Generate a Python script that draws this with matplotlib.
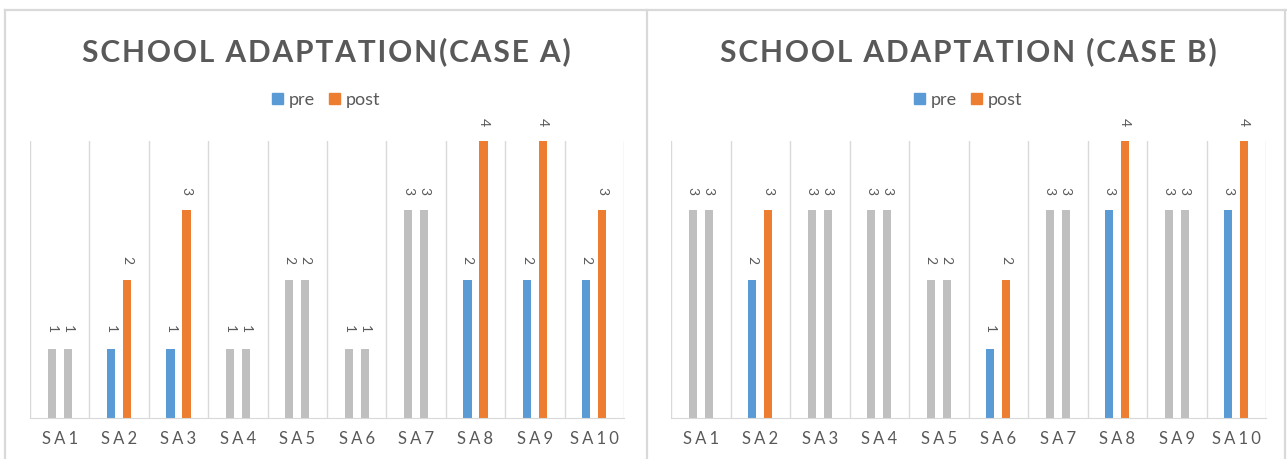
import matplotlib
matplotlib.use("Agg")
import matplotlib.pyplot as plt
from matplotlib.lines import Line2D
import numpy as np

# data
categories = ["SA1", "SA2", "SA3", "SA4", "SA5", "SA6", "SA7", "SA8", "SA9", "SA10"]
case_a_pre = [1, 1, 1, 1, 2, 1, 3, 2, 2, 2]
case_a_post = [1, 2, 3, 1, 2, 1, 3, 4, 4, 3]
case_b_pre = [3, 2, 3, 3, 2, 1, 3, 3, 3, 3]
case_b_post = [3, 3, 3, 3, 2, 2, 3, 4, 3, 4]

BLUE = "#5B9BD5"
ORANGE = "#ED7D31"
GREY = "#BFBFBF"
TEXT = "#595959"
LINE = "#D9D9D9"
FONT = ["Lato", "DejaVu Sans"]

W, H = 1287, 459
fig = plt.figure(figsize=(W / 100, H / 100), dpi=100)


def spaced(s, sep="\u200a"):
    return sep.join(s)


def px(x, y):
    return x / W, 1 - y / H


def draw_panel(left_px, right_px, title, title_x, pre, post):
    x0, y0 = px(left_px, 418)
    x1, y1 = px(right_px, 141)
    ax = fig.add_axes([x0, y0, x1 - x0, y1 - y0])
    x = np.arange(len(categories))
    off, bw = 0.135, 0.14
    pre_cols = [GREY if a == b else BLUE for a, b in zip(pre, post)]
    post_cols = [GREY if a == b else ORANGE for a, b in zip(pre, post)]
    b1 = ax.bar(x - off, pre, bw, color=pre_cols)
    b2 = ax.bar(x + off, post, bw, color=post_cols)
    for bars, vals in ((b1, pre), (b2, post)):
        for r, v in zip(bars, vals):
            ax.annotate(str(v), (r.get_x() + r.get_width() / 2, v),
                        xytext=(0, 11), textcoords="offset points",
                        ha="center", va="bottom", rotation=-90,
                        fontsize=10, color=TEXT, family=FONT,
                        annotation_clip=False)
    ax.set_xlim(-0.5, len(categories) - 0.5)
    ax.set_ylim(0, 4)
    for g in np.arange(-0.5, len(categories), 1.0):
        ax.axvline(g, color=LINE, lw=1, zorder=0)
    for s in ("top", "left", "right"):
        ax.spines[s].set_visible(False)
    ax.spines["bottom"].set_color(LINE)
    ax.set_yticks([])
    ax.set_xticks(x)
    ax.set_xticklabels([spaced(c, "\u2009\u200a") for c in categories],
                       fontsize=12, color=TEXT, family=FONT)
    ax.tick_params(axis="x", length=0, pad=9)

    tx, ty = px(title_x, 52)
    fig.text(tx, ty, spaced(title), ha="center", va="center",
             fontsize=21.5, fontweight="bold", color=TEXT, family=FONT)

    # legend
    lx, ly = px(title_x, 100)
    handles = [plt.Rectangle((0, 0), 1, 1, color=BLUE),
               plt.Rectangle((0, 0), 1, 1, color=ORANGE)]
    fig.legend(handles, ["pre", "post"], loc="center",
               bbox_to_anchor=(lx, ly), ncol=2, frameon=False,
               prop={"family": FONT, "size": 13}, labelcolor=TEXT,
               handlelength=0.6, handleheight=0.6, handletextpad=0.3,
               columnspacing=0.8)


draw_panel(30, 624, "SCHOOL ADAPTATION(CASE A)", 326, case_a_pre, case_a_post)
draw_panel(671, 1266, "SCHOOL ADAPTATION (CASE B)", 968, case_b_pre, case_b_post)

# chart frames
for xs, ys in (([5, 5], [10, 470]), ([5, 1286], [10, 10]),
               ([647, 647], [10, 470]), ([1285, 1285], [10, 470])):
    fig.add_artist(Line2D([v / W for v in xs], [1 - v / H for v in ys],
                          color=LINE, lw=1.6))

fig.savefig("out.png", dpi=100, facecolor="white")
